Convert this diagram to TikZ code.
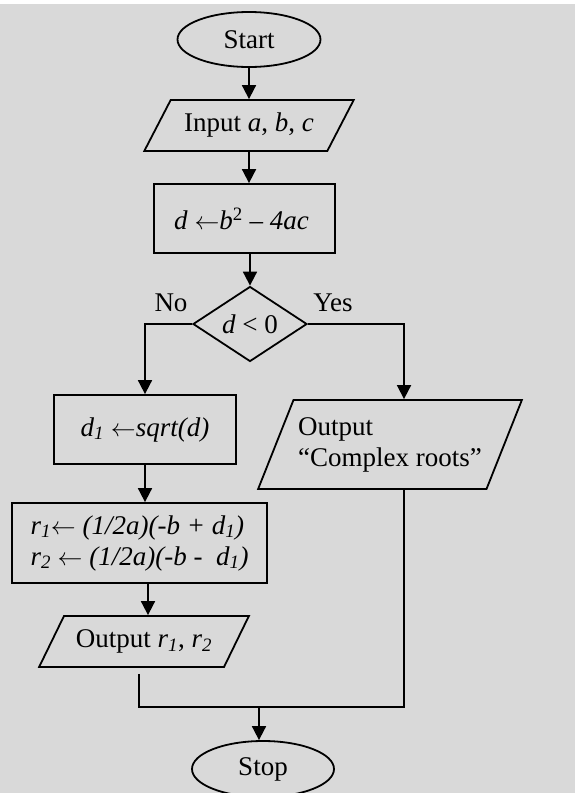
\documentclass[tikz,border=0pt]{standalone}
\usepackage{fontspec}
\setmainfont{Liberation Serif}
\usetikzlibrary{shapes.geometric,arrows.meta,calc}
\usepackage{xcolor}
\definecolor{bggray}{HTML}{D9D9D9}
\newcommand\flowfont{\fontsize{27}{31}\selectfont}
\newcommand\assignarrow{$\leftarrow$}

\begin{document}
\begin{tikzpicture}[x=1pt, y=-1pt, line width=1.8pt,
  term/.style={draw, ellipse, minimum width=143pt, minimum height=55pt, inner sep=0pt, font=\flowfont},
  io/.style={draw, trapezium, trapezium left angle=50, trapezium right angle=130, trapezium stretches=true, minimum width=210pt, minimum height=51pt, inner sep=1pt, font=\flowfont},
  proc/.style={draw, rectangle, minimum width=181pt, minimum height=69pt, inner sep=2pt, align=left, font=\flowfont},
  dec/.style={draw, diamond, minimum width=114pt, minimum height=75pt, inner sep=0pt, font=\flowfont},
  lbl/.style={font=\flowfont},
  arr/.style={-{Triangle[width=14pt,length=14pt]}}
]
  \useasboundingbox (0,0) rectangle (575,793);
  \fill[bggray] (0,4) rectangle (575,793);

  \node[term] (start) at (249,39.5) {Start};
  \node[io] (input) at (249,125.5) {Input \textit{a}, \textit{b}, \textit{c}};
  \node[proc] (calc) at (244.5,218.5) {\textit{d} \assignarrow\textit{b}\textsuperscript{2} – \textit{4ac}\hspace{6pt}};
  \node[dec] (test) at (250,324) {\textit{d} < 0};
  \node[lbl] at (171,303) {No};
  \node[lbl] at (333,303) {Yes};

  \node[proc, minimum width=182pt] (sq) at (145,429.5) {\itshape d\textsubscript{1} \assignarrow sqrt(d)};
  \node[io, align=left, trapezium left angle=59, trapezium right angle=121, minimum width=264pt, minimum height=89pt] (cplx) at (390,444.5) {Output\\“Complex roots”};
  \node[proc, minimum width=255pt, minimum height=80pt] (roots) at (139.5,543) {\itshape r\textsubscript{1}\assignarrow\ (1/2a)(-b + d\textsubscript{1})\\\itshape r\textsubscript{2} \assignarrow\ (1/2a)(-b -\ \ d\textsubscript{1})};
  \node[io] (outr) at (144,641.5) {Output \textit{r}\textsubscript{\textit{1}}, \textit{r}\textsubscript{\textit{2}}};
  \node[term, minimum width=142pt, minimum height=56pt] (stop) at (263,769) {Stop};

  \coordinate (merge) at (259,707);

  \draw[arr] (start) -- (input);
  \draw[arr] (input.south) -- (input.south |- calc.north);
  \draw[arr] (calc.south -| test.north) -- (test.north);
  \draw[arr] (test.west) -| (sq.north);
  \draw[arr] (test.east) -| ([xshift=14pt]cplx.north);
  \draw[arr] (sq.south) -- (sq.south |- roots.north);
  \draw[arr] ([xshift=8.5pt]roots.south) -- ([xshift=8.5pt]roots.south |- outr.north);
  \draw ([shift={(-5pt,-6pt)}]outr.south) |- (merge) -| ([xshift=14pt]cplx.south);
  \draw[arr] (merge) -- (merge |- stop.north);
\end{tikzpicture}
\end{document}
